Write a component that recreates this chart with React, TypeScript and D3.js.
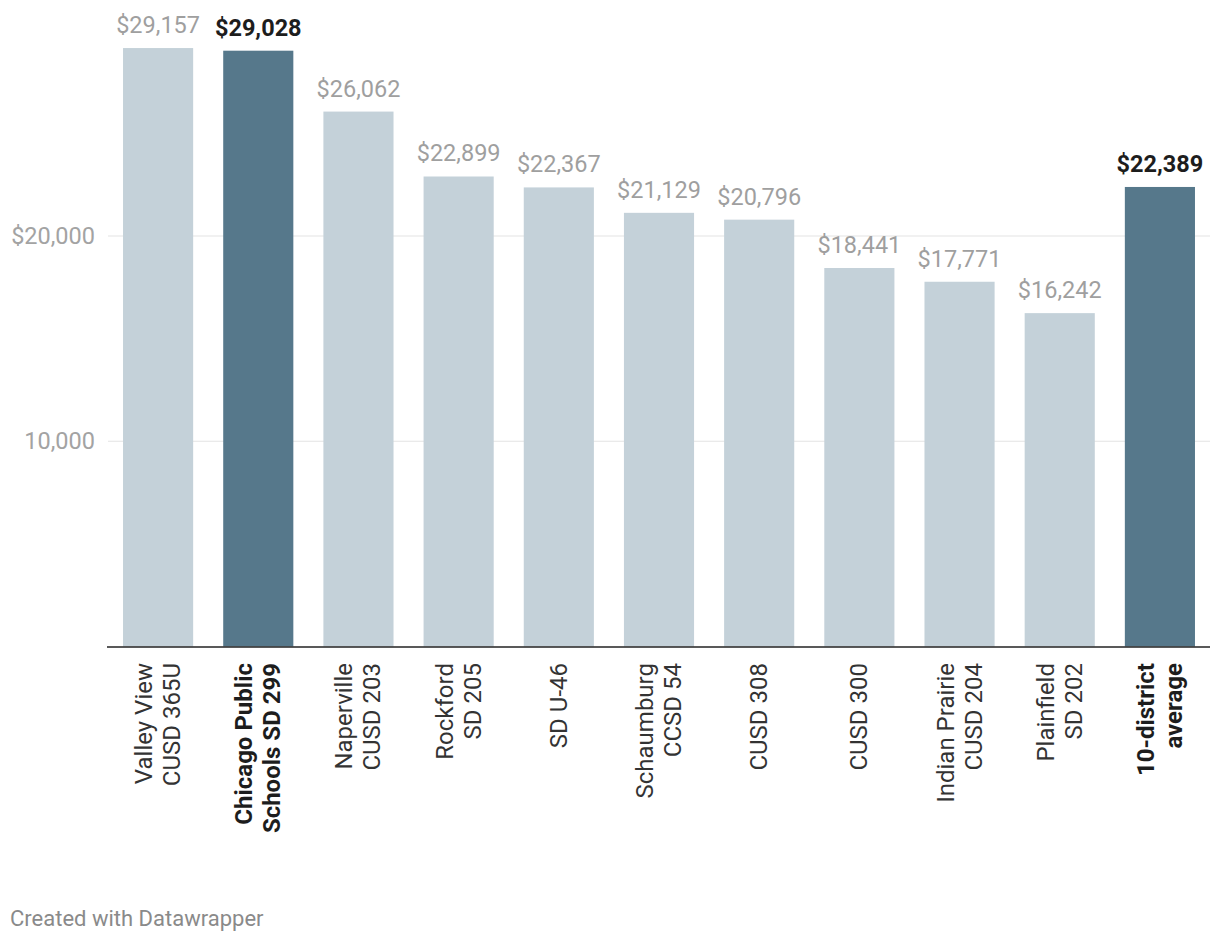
import React from "react";
import * as d3 from "d3";

const categories: string[][] = [
  ["Valley View", "CUSD 365U"],
  ["Chicago Public", "Schools SD 299"],
  ["Naperville", "CUSD 203"],
  ["Rockford", "SD 205"],
  ["SD U-46"],
  ["Schaumburg", "CCSD 54"],
  ["CUSD 308"],
  ["CUSD 300"],
  ["Indian Prairie", "CUSD 204"],
  ["Plainfield", "SD 202"],
  ["10-district", "average"],
];
const values: number[] = [29157, 29028, 26062, 22899, 22367, 21129, 20796, 18441, 17771, 16242, 22389];
const highlighted: boolean[] = [false, true, false, false, false, false, false, false, false, false, true];
const yTicks: number[] = [10000, 20000];
const yTickLabels: string[] = ["10,000", "$20,000"];
const footer = "Created with Datawrapper";

const W = 1220;
const H = 942;
const FONT = "Roboto, 'Noto Sans', sans-serif";

export default function App() {
  const ids = categories.map((_, i) => String(i));
  const x = d3.scaleBand<string>().domain(ids).range([108, 1210]).paddingInner(0.3).paddingOuter(0.15);
  const y = d3.scaleLinear().domain([0, 20000]).range([646.5, 236]);
  const fmt = d3.format(",");
  const baseY = y(0);

  return (
    <>
      <style>{`body{margin:0}`}</style>
      <svg width={W} height={H} style={{ display: "block", fontFamily: FONT }}>
        <rect x={0} y={0} width={W} height={H} fill="#fff" />
        {yTicks.map((t, i) => (
          <g key={t}>
            <line x1={108} x2={1210} y1={y(t)} y2={y(t)} stroke="#e3e3e3" strokeWidth={1.2} />
            <text x={95} y={y(t)} dy="0.35em" textAnchor="end" fontSize={23.5} fill="#a3a3a3">
              {yTickLabels[i]}
            </text>
          </g>
        ))}
        {values.map((v, i) => {
          const bx = x(String(i))!;
          const bw = x.bandwidth();
          const top = y(v);
          return (
            <g key={i}>
              <rect x={bx} y={top} width={bw} height={baseY - top} fill={highlighted[i] ? "#56788b" : "#c4d1d9"} />
              <text
                x={bx + bw / 2}
                y={top - 15}
                textAnchor="middle"
                fontSize={23.5}
                fontWeight={highlighted[i] ? 700 : 400}
                fill={highlighted[i] ? "#1d1d1d" : "#9f9f9f"}
              >
                {"$" + fmt(v)}
              </text>
            </g>
          );
        })}
        <line x1={107} x2={1210} y1={baseY + 0.5} y2={baseY + 0.5} stroke="#222" strokeWidth={1.6} />
        {categories.map((lines, i) => {
          const cx = x(String(i))! + x.bandwidth() / 2;
          const n = lines.length;
          return (
            <text
              key={i}
              transform={`translate(${cx},663) rotate(-90)`}
              textAnchor="end"
              fontSize={24}
              fontWeight={highlighted[i] ? 700 : 400}
              fill={highlighted[i] ? "#1d1d1d" : "#333"}
            >
              {lines.map((l, j) => (
                <tspan key={j} x={0} y={8 + (j - (n - 1) / 2) * 28}>
                  {l}
                </tspan>
              ))}
            </text>
          );
        })}
        <text x={10} y={926} fontSize={22} fill="#8a8a8a">
          {footer}
        </text>
      </svg>
    </>
  );
}
